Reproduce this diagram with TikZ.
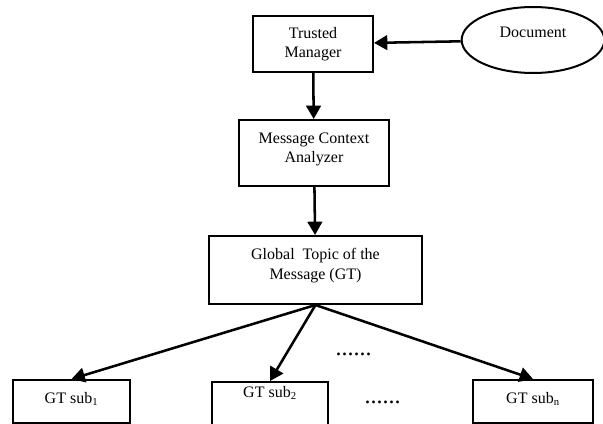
\documentclass[tikz,border=0pt]{standalone}
\usepackage{fontspec}
\setmainfont{Liberation Serif}
\usetikzlibrary{arrows.meta,shapes.geometric}
\tikzset{
	box/.style = {draw, line width = 1.5pt, align = center, font = \fontsize{12}{14.5}\selectfont},
	link/.style = {-{Triangle[length = 10pt, width = 11pt]}, line width = 1.9pt},
	etcdots/.style = {font = \fontsize{18}{20}\selectfont}
}
\begin{document}
\begin{tikzpicture}[x = 0.75pt, y = -0.75pt]
	\useasboundingbox (0, 0) rectangle (603, 424);
	\node [box, minimum width = 90pt, minimum height = 42pt] (tm) at (313, 44) {Trusted\\Manager};
	\node [box, ellipse, minimum width = 107pt, minimum height = 49.5pt, text depth = 11pt] (doc) at (533, 40) {Document};
	\node [box, minimum width = 112.5pt, minimum height = 49.5pt, text depth = 8pt] (mca) at (314, 153) {Message Context\\Analyzer};
	\node [box, minimum width = 160pt, minimum height = 51pt, text depth = 9pt] (gt) at (315.5, 270) {Global\ \ Topic of the\\Message (GT)};
	\node [box, minimum width = 87.75pt, minimum height = 32.25pt, text depth = 6pt] (sub1) at (71.5, 401.5) {GT sub\textsubscript{1}};
	\node [box, minimum width = 87pt, anchor = north, text depth = 24pt] (sub2) at (270, 381) {GT sub\textsubscript{2}};
	\node [box, minimum width = 90pt, minimum height = 32.25pt, text depth = 6pt] (subn) at (533, 401.5) {GT sub\textsubscript{n}};
	\node [etcdots] (dotsa) at (353.5, 354) {......};
	\node [etcdots] (dotsb) at (382.5, 402) {......};
	\draw [link] (doc) -- (tm);
	\draw [link] (tm) -- (mca);
	\draw [link] (mca) -- (gt);
	\draw [link] (gt.south) -- (sub1.north);
	\draw [link] (gt.south) -- (sub2.north);
	\draw [link] (gt.south) -- (subn.north);
\end{tikzpicture}
\end{document}
